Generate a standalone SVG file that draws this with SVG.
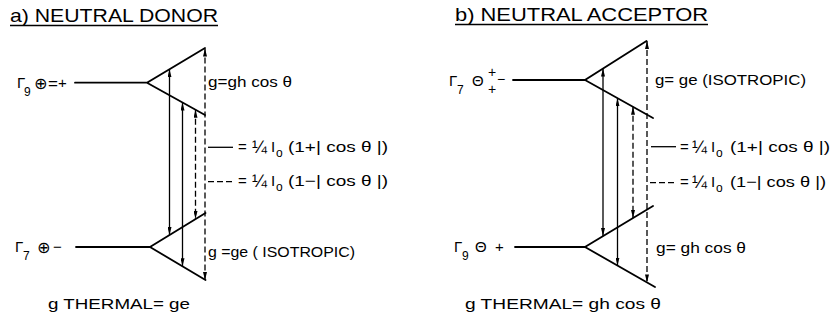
<svg xmlns="http://www.w3.org/2000/svg" width="836" height="320" viewBox="0 0 836 320">
<style>
  text { font-family: "Liberation Sans", "DejaVu Sans", sans-serif; fill: #000; }
  .t { font-size: 19px; }
  .l { font-size: 15px; }
  .s { font-size: 12px; }
  .st { font-size: 14px; }
  .q { font-size: 18px; }
  .sym { font-family: "DejaVu Sans", sans-serif; font-size: 16px; }
  .lvl { stroke: #000; stroke-width: 1.8; fill: none; stroke-linecap: round; stroke-linejoin: miter; }
  .ul { stroke: #000; stroke-width: 1.5; }
  .sol { stroke: #000; stroke-width: 1.3; fill: none; marker-start: url(#ah); marker-end: url(#ah); }
  .dsh { stroke: #000; stroke-width: 1.3; fill: none; stroke-dasharray: 6 3; marker-start: url(#ah); marker-end: url(#ah); }
  .key { stroke: #000; stroke-width: 1.3; }
  .keyd { stroke: #000; stroke-width: 1.3; stroke-dasharray: 6 3; }
</style>
<defs>
  <marker id="ah" viewBox="0 0 8 4" refX="8" refY="2" markerWidth="8" markerHeight="4" markerUnits="userSpaceOnUse" orient="auto-start-reverse">
    <path d="M0,0 L8,2 L0,4 z" fill="#000"/>
  </marker>
</defs>
<rect width="836" height="320" fill="#fff"/>

<!-- ===== a) NEUTRAL DONOR ===== -->
<g id="title-a">
  <text class="t" x="10" y="22" textLength="208" lengthAdjust="spacingAndGlyphs">a) NEUTRAL  DONOR</text>
  <line class="ul" x1="10" y1="25.5" x2="218" y2="25.5"/>
</g>

<g id="a-gamma9">
  <text class="l" x="17" y="88">Γ<tspan class="s" x="24" y="96">9</tspan><tspan class="sym" x="34" y="89">⊕</tspan><tspan style="font-size:17px" x="48" y="89">=</tspan><tspan x="58" y="88">+</tspan></text>
  <path class="lvl" d="M75,82.7 H147 M205,48 L147,82.7 L205,115"/>
  <text class="l" x="208" y="87" textLength="84" lengthAdjust="spacingAndGlyphs">g=gh cos θ</text>
</g>

<g id="a-gamma7">
  <text class="l" x="15" y="252">Γ<tspan class="s" x="23" y="260">7</tspan><tspan class="sym" x="37" y="253">⊕</tspan><tspan x="53" y="252">−</tspan></text>
  <path class="lvl" d="M76,247 H150 M205.5,213 L150,247 L205.5,280"/>
  <text class="l" x="208" y="257" textLength="147" lengthAdjust="spacingAndGlyphs">g =ge ( ISOTROPIC)</text>
</g>

<g id="a-legend">
  <line class="key" x1="208" y1="147.3" x2="233" y2="147.3"/>
  <text class="l" x="238" y="152">=<tspan class="q" x="252" y="153">¼</tspan><tspan x="271" y="152">I</tspan><tspan class="s" x="276" y="157">o</tspan></text>
  <text class="l" x="288" y="152" textLength="100" lengthAdjust="spacingAndGlyphs">(1+| cos θ |)</text>
  <line class="keyd" x1="208" y1="181.7" x2="233" y2="181.7"/>
  <text class="l" x="238" y="186">=<tspan class="q" x="252" y="187">¼</tspan><tspan x="271" y="186">I</tspan><tspan class="s" x="276" y="191">o</tspan></text>
  <text class="l" x="288" y="186" textLength="100" lengthAdjust="spacingAndGlyphs">(1−| cos θ |)</text>
</g>

<g id="a-thermal">
  <text class="l" x="48" y="309" textLength="142" lengthAdjust="spacingAndGlyphs">g  THERMAL= ge</text>
</g>

<g id="a-transitions">
  <line class="sol" x1="169.5" y1="69.2" x2="169.5" y2="235"/>
  <line class="sol" x1="182.5" y1="102.5" x2="182.5" y2="266.3"/>
  <line class="dsh" x1="195.5" y1="109.7" x2="195.5" y2="219.1"/>
  <line class="dsh" x1="205" y1="48.5" x2="205" y2="280"/>
</g>

<!-- ===== b) NEUTRAL ACCEPTOR ===== -->
<g id="title-b">
  <text class="t" x="455" y="21" textLength="253" lengthAdjust="spacingAndGlyphs">b) NEUTRAL  ACCEPTOR</text>
  <line class="ul" x1="455" y1="24.5" x2="708" y2="24.5"/>
</g>

<g id="b-gamma7">
  <text class="l" x="449" y="86">Γ<tspan class="s" x="457" y="94">7</tspan><tspan x="472" y="86">Θ</tspan><tspan class="st" x="488" y="77">+</tspan><tspan class="st" x="497" y="84">−</tspan><tspan class="st" x="488" y="94">+</tspan></text>
  <path class="lvl" d="M513,80 H585 M646.5,41 L585,80 L653,118"/>
  <text class="l" x="655" y="85" textLength="151" lengthAdjust="spacingAndGlyphs">g= ge (ISOTROPIC)</text>
</g>

<g id="b-gamma9">
  <text class="l" x="454" y="252">Γ<tspan class="s" x="462" y="260">9</tspan><tspan x="475" y="252">Θ</tspan><tspan x="495" y="252">+</tspan></text>
  <path class="lvl" d="M515,247 H585 M653,206 L585,247 L655,287"/>
  <text class="l" x="656" y="253" textLength="90" lengthAdjust="spacingAndGlyphs">g= gh cos θ</text>
</g>

<g id="b-legend">
  <line class="key" x1="651" y1="146.7" x2="676" y2="146.7"/>
  <text class="l" x="680" y="151.7">=<tspan class="q" x="692" y="152.7">¼</tspan><tspan x="711" y="151.7">I</tspan><tspan class="s" x="716" y="156.7">o</tspan></text>
  <text class="l" x="730" y="151.7" textLength="100" lengthAdjust="spacingAndGlyphs">(1+| cos θ |)</text>
  <line class="keyd" x1="650" y1="182.7" x2="677" y2="182.7"/>
  <text class="l" x="680" y="186.7">=<tspan class="q" x="692" y="187.7">¼</tspan><tspan x="711" y="186.7">I</tspan><tspan class="s" x="716" y="191.7">o</tspan></text>
  <text class="l" x="730" y="186.7" textLength="96" lengthAdjust="spacingAndGlyphs">(1−| cos θ |)</text>
</g>

<g id="b-thermal">
  <text class="l" x="465" y="309" textLength="196" lengthAdjust="spacingAndGlyphs">g  THERMAL= gh  cos θ</text>
</g>

<g id="b-transitions">
  <line class="sol" x1="603" y1="68.6" x2="603" y2="236.1"/>
  <line class="sol" x1="617.5" y1="98.2" x2="617.5" y2="265.6"/>
  <line class="dsh" x1="633" y1="106.8" x2="633" y2="218"/>
  <line class="dsh" x1="647" y1="41" x2="647" y2="282.4"/>
</g>
</svg>
